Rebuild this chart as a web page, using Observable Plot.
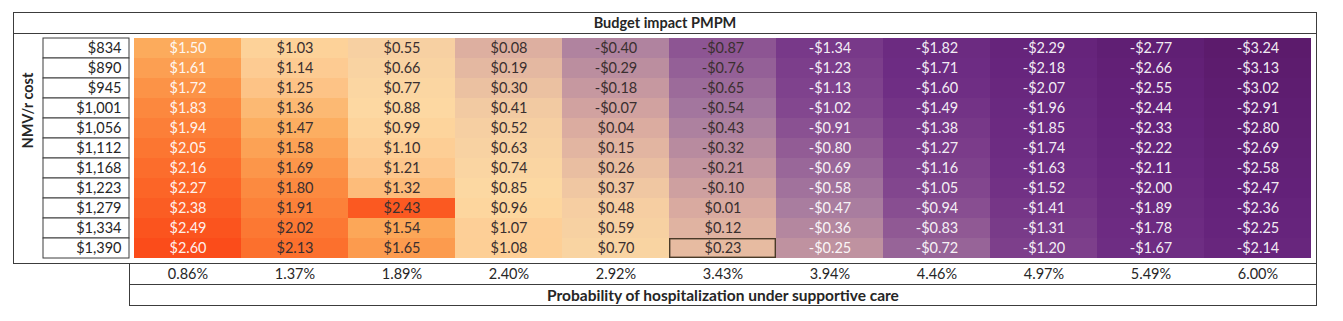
<!DOCTYPE html>
<html>
<head>
<meta charset="utf-8">
<script src="https://cdn.jsdelivr.net/npm/d3@7"></script>
<script src="https://cdn.jsdelivr.net/npm/@observablehq/plot@0.6"></script>
<style>
  html, body { margin: 0; padding: 0; background: #fff; }
  body { width: 1343px; height: 321px; position: relative; overflow: hidden; font-family: Lato, "Open Sans", sans-serif; color: #262626; }
  .box { position: absolute; box-sizing: border-box; border: 1px solid #3c3c3c; }
  #title { left: 13px; top: 12px; width: 1304px; height: 22px; text-align: center; font-weight: bold; font-size: 14.5px; line-height: 20px; }
  #bottom { left: 129px; top: 263px; width: 1188px; height: 43px; }
  #bottom .sep { position: absolute; left: 0; right: 0; top: 20px; border-top: 1px solid #3c3c3c; }
  #caption { position: absolute; left: 0; right: 0; top: 21px; height: 20px; line-height: 20px; text-align: center; font-weight: bold; font-size: 15.5px; }
  #chart { position: absolute; left: 0; top: 33px; }
  #chart svg { background: transparent; }
</style>
</head>
<body>
<div id="title" class="box">Budget impact PMPM</div>
<div id="bottom" class="box"><div class="sep"></div><div id="caption">Probability of hospitalization under supportive care</div></div>
<div id="chart"></div>
<script>
// Row categories: NMV/r cost
const costs = ["$834","$890","$945","$1,001","$1,056","$1,112","$1,168","$1,223","$1,279","$1,334","$1,390"];
// Column categories: probability of hospitalization under supportive care
const probs = ["0.86%","1.37%","1.89%","2.40%","2.92%","3.43%","3.94%","4.46%","4.97%","5.49%","6.00%"];

// Budget impact PMPM, one array per probability column (top to bottom = costs order)
const p086 = [1.50,1.61,1.72,1.83,1.94,2.05,2.16,2.27,2.38,2.49,2.60];
const p137 = [1.03,1.14,1.25,1.36,1.47,1.58,1.69,1.80,1.91,2.02,2.13];
const p189 = [0.55,0.66,0.77,0.88,0.99,1.10,1.21,1.32,2.43,1.54,1.65];
const p240 = [0.08,0.19,0.30,0.41,0.52,0.63,0.74,0.85,0.96,1.07,1.08];
const p292 = [-0.40,-0.29,-0.18,-0.07,0.04,0.15,0.26,0.37,0.48,0.59,0.70];
const p343 = [-0.87,-0.76,-0.65,-0.54,-0.43,-0.32,-0.21,-0.10,0.01,0.12,0.23];
const p394 = [-1.34,-1.23,-1.13,-1.02,-0.91,-0.80,-0.69,-0.58,-0.47,-0.36,-0.25];
const p446 = [-1.82,-1.71,-1.60,-1.49,-1.38,-1.27,-1.16,-1.05,-0.94,-0.83,-0.72];
const p497 = [-2.29,-2.18,-2.07,-1.96,-1.85,-1.74,-1.63,-1.52,-1.41,-1.31,-1.20];
const p549 = [-2.77,-2.66,-2.55,-2.44,-2.33,-2.22,-2.11,-2.00,-1.89,-1.78,-1.67];
const p600 = [-3.24,-3.13,-3.02,-2.91,-2.80,-2.69,-2.58,-2.47,-2.36,-2.25,-2.14];

const columns = [p086,p137,p189,p240,p292,p343,p394,p446,p497,p549,p600];

// Highlighted cell
const highlight = {cost: "$1,390", prob: "3.43%"};

// Build table
const data = [];
probs.forEach((p, j) => costs.forEach((c, i) => data.push({prob: p, cost: c, value: columns[j][i]})));

const fmt = v => (v < 0 ? "-$" : "$") + Math.abs(v).toFixed(2);
const lightText = d => { const p = parseFloat(d.prob); return p < 1 || p > 3.5; };

const W = 1343, ML = 129, MR = 27;
const frameW = W - ML - MR;

const chart = Plot.plot({
  width: W,
  height: 251,
  marginLeft: ML,
  marginRight: MR,
  marginTop: 0,
  marginBottom: 21,
  x: {domain: probs, padding: 0, axis: null},
  y: {domain: costs, padding: 0, axis: null},
  color: {
    type: "linear",
    domain: [-3.24, -2.4, -1.6, -1.0, -0.5, 0, 0.45, 0.9, 1.2, 1.5, 1.8, 2.1, 2.6],
    range: ["#5c1b6c", "#64227a", "#6f2e84", "#84488f", "#a67a9f", "#d8a9a0", "#f5cda2", "#fdd9a2", "#fdc88e", "#fcab5c", "#fc8a40", "#fc722e", "#fb4c1a"]
  },
  style: {fontFamily: "Lato, 'Open Sans', sans-serif", fontSize: "14.5px", background: "transparent", color: "#262626"},
  marks: [
    Plot.cell(data, {x: "prob", y: "cost", fill: "value"}),
    Plot.text(data, {
      x: "prob", y: "cost", text: d => fmt(d.value),
      fill: d => lightText(d) ? "#ffffff" : "#3a2f2f",
      fillOpacity: d => lightText(d) ? 0.93 : 1,
      fontSize: 14.5
    }),
    Plot.cell(data.filter(d => d.cost === highlight.cost && d.prob === highlight.prob),
      {x: "prob", y: "cost", fill: "none", stroke: "#4a3a28", strokeWidth: 1.4, inset: 0.7}),
    // row-label column cells
    Plot.cell(costs, {y: d => d, fill: "#fff", stroke: "#3c3c3c", strokeWidth: 1, insetLeft: -86, insetRight: frameW}),
    Plot.axisY({tickSize: 0, tickPadding: 8, fontSize: 14.5, label: null}),
    Plot.text(["NMV/r cost"], {frameAnchor: "left", rotate: -90, dx: -101, fontWeight: "bold", fontSize: 14.5, fill: "#262626"}),
    Plot.frame({insetLeft: -116, stroke: "#3c3c3c", strokeWidth: 1}),
    Plot.axisX({tickSize: 0, tickPadding: 5, fontSize: 14.5, label: null})
  ]
});
document.getElementById("chart").appendChild(chart);
</script>
</body>
</html>
